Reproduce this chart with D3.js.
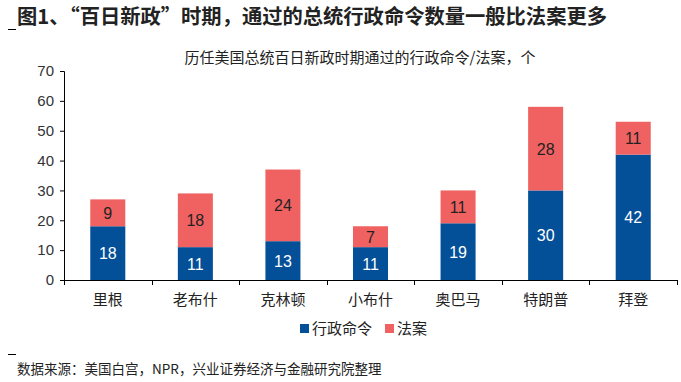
<!DOCTYPE html>
<html>
<head>
<meta charset="utf-8">
<script src="https://cdn.jsdelivr.net/npm/d3@7"></script>
<style>
  body { margin: 0; background: #fff; }
  text { font-family: "Liberation Sans", "Noto Sans CJK SC", sans-serif; }
</style>
</head>
<body>
<svg width="681" height="382"></svg>
<script>
const presidents = ["里根", "老布什", "克林顿", "小布什", "奥巴马", "特朗普", "拜登"];
const orders = [18, 11, 13, 11, 19, 30, 42];
const bills = [9, 18, 24, 7, 11, 28, 11];
const yTicks = [0, 10, 20, 30, 40, 50, 60, 70];
const seriesNames = ["行政命令", "法案"];

const blue = "#034f98", red = "#f06262";
const svg = d3.select("svg");
const margin = { left: 64, right: 4, top: 71, bottom: 102 };
const width = 681, height = 382;

const x = d3.scaleBand().domain(presidents)
    .range([margin.left, width - margin.right])
    .paddingInner(0.6).paddingOuter(0.3);
const xTick = d3.scaleLinear().domain([0, presidents.length]).range([margin.left, width - margin.right]);
const y = d3.scaleLinear().domain([0, 70]).range([height - margin.bottom, margin.top]);

// title
svg.append("text").attr("x", 17).attr("y", 24)
    .attr("font-size", 20.3).attr("font-weight", "bold").attr("fill", "#222")
    .style("font-family", "'Noto Sans CJK SC', sans-serif")
    .text("图1、“百日新政”时期，通过的总统行政命令数量一般比法案更多");
svg.append("line").attr("x1", 8).attr("x2", 16).attr("y1", 29.5).attr("y2", 29.5).attr("stroke", "#000");
svg.append("line").attr("x1", 8).attr("x2", 16).attr("y1", 354.5).attr("y2", 354.5).attr("stroke", "#000");

svg.append("text").attr("x", 360).attr("y", 63).attr("text-anchor", "middle")
    .attr("font-size", 15).attr("fill", "#222")
    .style("font-family", "'Noto Sans CJK SC', sans-serif")
    .text("历任美国总统百日新政时期通过的行政命令/法案，个");

// y axis
const yAxis = svg.append("g").attr("transform", `translate(${margin.left},0)`)
    .call(d3.axisLeft(y).tickValues(yTicks).tickSize(4).tickPadding(6));
yAxis.select(".domain").attr("stroke", "#000");
yAxis.selectAll("text").attr("font-size", 15).attr("fill", "#333")
    .style("font-family", "'Liberation Sans', sans-serif");

// x axis
const xg = svg.append("g");
xg.append("line").attr("x1", margin.left).attr("x2", width - margin.right)
    .attr("y1", y(0) + 0.5).attr("y2", y(0) + 0.5).attr("stroke", "#000");
xg.selectAll(".xt").data(d3.range(presidents.length + 1)).enter().append("line")
    .attr("x1", d => Math.round(xTick(d)) + 0.5).attr("x2", d => Math.round(xTick(d)) + 0.5)
    .attr("y1", y(0)).attr("y2", y(0) + 5).attr("stroke", "#000");
xg.selectAll(".xl").data(presidents).enter().append("text")
    .attr("x", d => x(d) + x.bandwidth() / 2).attr("y", y(0) + 25)
    .attr("text-anchor", "middle").attr("font-size", 15).attr("fill", "#222")
    .style("font-family", "'Noto Sans CJK SC', sans-serif")
    .text(d => d);

// bars
const rows = presidents.map((p, i) => ({ p, o: orders[i], b: bills[i] }));
const g = svg.append("g");
g.selectAll(".ob").data(rows).enter().append("rect")
    .attr("x", d => x(d.p)).attr("width", x.bandwidth())
    .attr("y", d => y(d.o)).attr("height", d => y(0) - y(d.o))
    .attr("fill", blue);
g.selectAll(".bb").data(rows).enter().append("rect")
    .attr("x", d => x(d.p)).attr("width", x.bandwidth())
    .attr("y", d => y(d.o + d.b)).attr("height", d => y(d.o) - y(d.o + d.b))
    .attr("fill", red);
g.selectAll(".ol").data(rows).enter().append("text")
    .attr("x", d => x(d.p) + x.bandwidth() / 2).attr("y", d => y(d.o / 2) + 6)
    .attr("text-anchor", "middle").attr("font-size", 16).attr("fill", "#fff")
    .text(d => d.o);
g.selectAll(".bl").data(rows).enter().append("text")
    .attr("x", d => x(d.p) + x.bandwidth() / 2).attr("y", d => y(d.o + d.b / 2) + 6)
    .attr("text-anchor", "middle").attr("font-size", 16).attr("fill", "#222")
    .text(d => d.b);

// legend
const legend = svg.append("g").attr("transform", "translate(300,328)");
[blue, red].forEach((c, i) => {
    const lx = i * 85;
    legend.append("rect").attr("x", lx).attr("y", -4).attr("width", 9).attr("height", 9).attr("fill", c);
    legend.append("text").attr("x", lx + 12).attr("y", 6).attr("font-size", 15).attr("fill", "#222")
        .style("font-family", "'Noto Sans CJK SC', sans-serif")
        .text(seriesNames[i]);
});

// source
svg.append("text").attr("x", 17).attr("y", 374).attr("font-size", 13.5).attr("fill", "#222")
    .style("font-family", "'Noto Sans CJK SC', sans-serif")
    .text("数据来源：美国白宫，NPR，兴业证券经济与金融研究院整理");
</script>
</body>
</html>
